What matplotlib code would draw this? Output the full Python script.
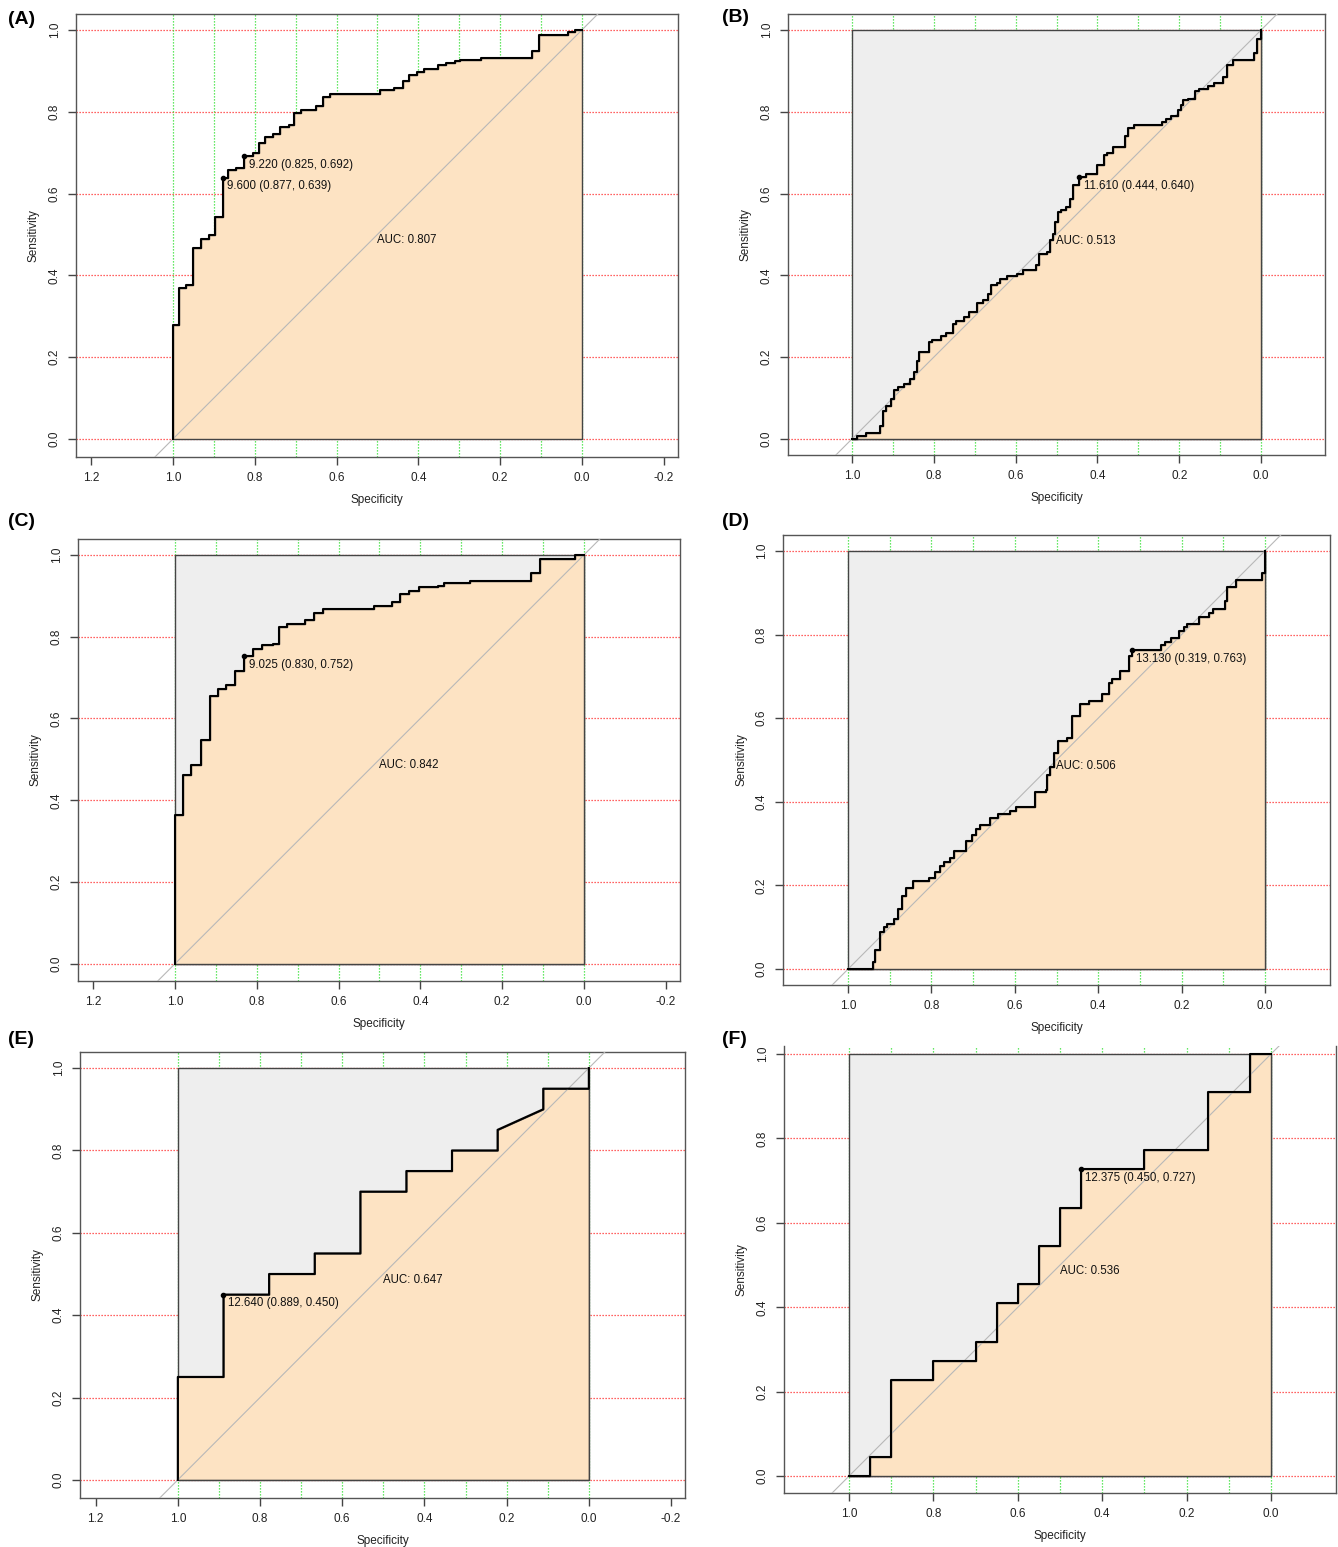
import numpy as np
import matplotlib.pyplot as plt

plt.rcParams['font.family'] = ['Liberation Sans', 'DejaVu Sans']

# ROC curves: (specificity, sensitivity) at each riser top
spec_a = [1.0, 1.0, 0.985, 0.968, 0.952, 0.932, 0.913, 0.897, 0.877, 0.865,
          0.846, 0.825, 0.804, 0.790, 0.775, 0.756, 0.737, 0.716, 0.703, 0.687,
          0.650, 0.634, 0.615, 0.493, 0.459, 0.438, 0.422, 0.403, 0.385, 0.351,
          0.332, 0.311, 0.298, 0.247, 0.123, 0.106, 0.035, 0.018, 0.0]
sens_a = [0.0, 0.278, 0.370, 0.377, 0.467, 0.490, 0.498, 0.543, 0.639, 0.657,
          0.663, 0.692, 0.699, 0.724, 0.738, 0.746, 0.762, 0.767, 0.797, 0.805,
          0.813, 0.836, 0.844, 0.852, 0.859, 0.874, 0.890, 0.898, 0.905, 0.914,
          0.919, 0.923, 0.927, 0.932, 0.948, 0.987, 0.994, 1.0, 1.0]

spec_b = [1.0, 0.987, 0.965, 0.932, 0.925, 0.917, 0.904, 0.897, 0.888, 0.873,
          0.858, 0.848, 0.842, 0.835, 0.812, 0.804, 0.782, 0.769, 0.753, 0.746,
          0.725, 0.714, 0.695, 0.679, 0.668, 0.661, 0.645, 0.638, 0.622, 0.596,
          0.581, 0.550, 0.542, 0.522, 0.517, 0.509, 0.504, 0.497, 0.490, 0.476,
          0.468, 0.460, 0.444, 0.427, 0.400, 0.384, 0.376, 0.362, 0.333, 0.325,
          0.310, 0.243, 0.233, 0.220, 0.202, 0.197, 0.190, 0.179, 0.161, 0.151,
          0.130, 0.115, 0.092, 0.084, 0.069, 0.017, 0.009, 0.0]
sens_b = [0.0, 0.007, 0.015, 0.033, 0.068, 0.081, 0.099, 0.119, 0.127, 0.134,
          0.148, 0.164, 0.192, 0.214, 0.237, 0.243, 0.251, 0.259, 0.282, 0.289,
          0.298, 0.311, 0.333, 0.341, 0.354, 0.376, 0.381, 0.392, 0.398, 0.404,
          0.414, 0.425, 0.452, 0.457, 0.487, 0.502, 0.531, 0.555, 0.561, 0.567,
          0.588, 0.620, 0.640, 0.649, 0.669, 0.694, 0.699, 0.714, 0.742, 0.760,
          0.767, 0.775, 0.783, 0.789, 0.804, 0.816, 0.828, 0.832, 0.852, 0.856,
          0.862, 0.870, 0.885, 0.914, 0.927, 0.944, 0.979, 1.0]

spec_c = [1.0, 1.0, 0.981, 0.960, 0.937, 0.915, 0.894, 0.875, 0.852, 0.830,
          0.810, 0.788, 0.761, 0.746, 0.725, 0.681, 0.661, 0.637, 0.513, 0.470,
          0.450, 0.427, 0.404, 0.357, 0.341, 0.279, 0.129, 0.108, 0.021, 0.0]
sens_c = [0.0, 0.363, 0.461, 0.487, 0.548, 0.656, 0.672, 0.682, 0.717, 0.752,
          0.770, 0.779, 0.782, 0.823, 0.831, 0.841, 0.859, 0.868, 0.876, 0.886,
          0.904, 0.913, 0.921, 0.925, 0.931, 0.937, 0.957, 0.990, 1.0, 1.0]

spec_d = [1.0, 0.940, 0.935, 0.924, 0.914, 0.907, 0.889, 0.881, 0.871, 0.861,
          0.843, 0.807, 0.791, 0.780, 0.770, 0.755, 0.746, 0.718, 0.702, 0.693,
          0.683, 0.660, 0.640, 0.612, 0.597, 0.552, 0.525, 0.522, 0.515, 0.507,
          0.496, 0.474, 0.462, 0.443, 0.421, 0.391, 0.374, 0.366, 0.347, 0.327,
          0.319, 0.250, 0.240, 0.225, 0.206, 0.194, 0.186, 0.159, 0.134, 0.124,
          0.096, 0.091, 0.070, 0.008, 0.0]
sens_d = [0.0, 0.018, 0.045, 0.088, 0.100, 0.108, 0.121, 0.143, 0.176, 0.195,
          0.211, 0.219, 0.231, 0.247, 0.255, 0.265, 0.283, 0.307, 0.321, 0.335,
          0.344, 0.361, 0.370, 0.379, 0.387, 0.423, 0.429, 0.465, 0.484, 0.517,
          0.546, 0.552, 0.605, 0.634, 0.640, 0.658, 0.684, 0.694, 0.712, 0.748,
          0.763, 0.774, 0.781, 0.791, 0.809, 0.818, 0.826, 0.843, 0.851, 0.861,
          0.879, 0.913, 0.931, 0.947, 1.0]

# E has a tie segment, so it is kept as plain corner points
spec_e = [1.0, 1.0, 0.889, 0.889, 0.778, 0.778, 0.667, 0.667, 0.556, 0.556,
          0.444, 0.444, 0.333, 0.333, 0.222, 0.222, 0.111, 0.111, 0.0, 0.0]
sens_e = [0.0, 0.25, 0.25, 0.45, 0.45, 0.50, 0.50, 0.55, 0.55, 0.70,
          0.70, 0.75, 0.75, 0.80, 0.80, 0.85, 0.90, 0.95, 0.95, 1.0]

spec_f = [1.0, 0.95, 0.90, 0.80, 0.70, 0.65, 0.60, 0.55, 0.50, 0.45, 0.30, 0.15, 0.05, 0.0]
sens_f = [0.0, 0.045, 0.227, 0.273, 0.318, 0.409, 0.455, 0.545, 0.636, 0.727,
          0.773, 0.909, 1.0, 1.0]

aucs = [0.807, 0.513, 0.842, 0.506, 0.647, 0.536]
letters = ['(A)', '(B)', '(C)', '(D)', '(E)', '(F)']

thr_a, thr_sp_a, thr_se_a = [9.220, 9.600], [0.825, 0.877], [0.692, 0.639]
thr_b, thr_sp_b, thr_se_b = [11.610], [0.444], [0.640]
thr_c, thr_sp_c, thr_se_c = [9.025], [0.830], [0.752]
thr_d, thr_sp_d, thr_se_d = [13.130], [0.319], [0.763]
thr_e, thr_sp_e, thr_se_e = [12.640], [0.889], [0.450]
thr_f, thr_sp_f, thr_se_f = [12.375], [0.450], [0.727]

W, H = 1338, 1547
fig = plt.figure(figsize=(W / 100, H / 100), dpi=100)

# pixel boxes: left, right, top, bottom ; x-range, y-range of each panel
panels = [
    (76, 678, 14, 457, (1.237, -0.235), (-0.044, 1.039)),
    (788, 1325, 14, 455, (1.156, -0.156), (-0.039, 1.039)),
    (78, 680, 539, 981, (1.237, -0.235), (-0.042, 1.039)),
    (783, 1330, 535, 985, (1.156, -0.156), (-0.038, 1.038)),
    (80, 685, 1052, 1498, (1.238, -0.234), (-0.044, 1.039)),
    (784, 1336, 1046, 1493, (1.154, -0.154), (-0.040, 1.019)),
]
letter_pos = [(8, 19), (722, 18), (8, 522), (722, 522), (8, 1040), (722, 1040)]

curves = [
    (spec_a, sens_a, True, thr_a, thr_sp_a, thr_se_a, False),
    (spec_b, sens_b, True, thr_b, thr_sp_b, thr_se_b, True),
    (spec_c, sens_c, True, thr_c, thr_sp_c, thr_se_c, True),
    (spec_d, sens_d, True, thr_d, thr_sp_d, thr_se_d, True),
    (spec_e, sens_e, False, thr_e, thr_sp_e, thr_se_e, True),
    (spec_f, sens_f, True, thr_f, thr_sp_f, thr_se_f, True),
]

xt = [1.2, 1.0, 0.8, 0.6, 0.4, 0.2, 0.0, -0.2]
yt = [0.0, 0.2, 0.4, 0.6, 0.8, 1.0]

for i, (l, r, t, b, xl, yl) in enumerate(panels):
    ax = fig.add_axes([l / W, 1 - b / H, (r - l) / W, (b - t) / H])
    spec, sens, steps, thr, tsp, tse, grey = curves[i]

    for v in yt:
        ax.axhline(v, color='#ff3030', lw=0.9, ls=(0, (1, 1.4)), zorder=1)
    for v in np.arange(0, 1.01, 0.1):
        ax.axvline(v, color='#33e033', lw=0.9, ls=(0, (1, 1.4)), zorder=1)

    if grey:
        ax.add_patch(plt.Rectangle((0, 0), 1, 1, fc='#eeeeee', ec='#444444',
                                   lw=1.0, zorder=2))
    ax.fill_between(spec, sens, 0, step='post' if steps else None,
                    facecolor='#fde3c3', edgecolor='#444444', lw=1.0, zorder=3)
    ax.axline((1, 0), (0, 1), color='#b8b8b8', lw=0.8, zorder=4)
    ax.plot(spec, sens, drawstyle='steps-post' if steps else 'default',
            color='black', lw=1.5, zorder=5)

    ax.plot(tsp, tse, 'o', color='black', ms=3, zorder=6)
    for th, sp, se in zip(thr, tsp, tse):
        ax.annotate(f'{th:.3f} ({sp:.3f}, {se:.3f})', (sp, se),
                    xytext=(3, -2), textcoords='offset points',
                    ha='left', va='top', fontsize=8.3, color='#111111', zorder=7)
    ax.text(0.5, 0.5, f'AUC: {aucs[i]:.3f}', ha='left', va='top',
            fontsize=8.3, color='#111111', zorder=7)

    # only the ticks inside the panel's range, then fix the range
    xin = [v for v in xt if min(xl) <= v <= max(xl)]
    ax.set_xticks(xin)
    ax.set_xticklabels([f'{v:.1f}' for v in xin])
    ax.set_yticks(yt)
    ax.set_yticklabels([f'{v:.1f}' for v in yt], rotation=90, va='center')
    ax.set_xlim(*xl)
    ax.set_ylim(*yl)
    ax.tick_params(direction='out', length=6, width=1, color='#444444',
                   pad=5, labelsize=8.5, labelcolor='#222222')
    for s in ax.spines.values():
        s.set_color('#555555')
        s.set_linewidth(1.0)
    if i == 5:
        ax.spines['top'].set_visible(False)

    wpx, hpx = r - l, b - t
    ax.set_xlabel('Specificity', fontsize=8.5, color='#222222')
    ax.xaxis.set_label_coords(0.5, -43 / hpx)
    ax.xaxis.label.set_va('center')
    ax.set_ylabel('Sensitivity', fontsize=8.5, color='#222222')
    ax.yaxis.set_label_coords(-42 / wpx, 0.5)
    ax.yaxis.label.set_va('center')

    lx, ly = letter_pos[i]
    fig.text(lx / W, 1 - ly / H, letters[i], fontsize=14, fontweight='bold',
             ha='left', va='center')

fig.savefig('out.png', dpi=100)
